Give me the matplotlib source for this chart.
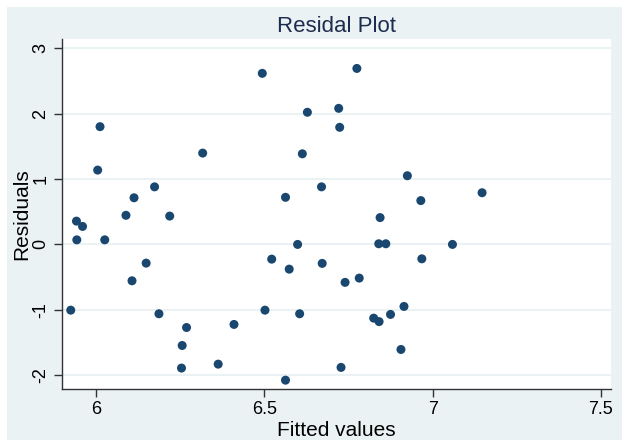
import matplotlib.pyplot as plt
from matplotlib.patches import Rectangle

# Data
fitted = [5.925, 5.942, 5.943, 5.96, 6.005, 6.012, 6.026, 6.089, 6.107, 6.113,
          6.149, 6.174, 6.187, 6.219, 6.254, 6.256, 6.269, 6.317, 6.363, 6.41,
          6.494, 6.502, 6.522, 6.563, 6.563, 6.574, 6.599, 6.605, 6.613, 6.628,
          6.67, 6.672, 6.721, 6.724, 6.728, 6.74, 6.775, 6.782, 6.825, 6.84,
          6.841, 6.844, 6.861, 6.875, 6.906, 6.915, 6.925, 6.965, 6.968, 7.059,
          7.147]
residuals = [-1.005, 0.356, 0.07, 0.275, 1.136, 1.80, 0.07, 0.445, -0.556, 0.713,
             -0.286, 0.88, -1.06, 0.433, -1.89, -1.545, -1.27, 1.396, -1.83, -1.223,
             2.615, -1.005, -0.225, 0.72, -2.075, -0.378, 0.0, -1.06, 1.385, 2.02,
             0.88, -0.29, 2.08, 1.79, -1.88, -0.58, 2.69, -0.515, -1.127, 0.01,
             -1.18, 0.41, 0.01, -1.07, -1.606, -0.948, 1.05, 0.67, -0.22, 0.0,
             0.79]
x_ticks = [6, 6.5, 7, 7.5]
x_tick_labels = ['6', '6.5', '7', '7.5']
y_ticks = [-2, -1, 0, 1, 2, 3]

plt.rcParams['font.family'] = ['Liberation Sans', 'DejaVu Sans']

W, H = 629, 447
fig = plt.figure(figsize=(W / 100, H / 100), dpi=100, facecolor='white')

# Stata-like outer background, drawn behind the axes
fig.patches.append(Rectangle((7 / W, 1 - 440 / H), (622 - 7) / W, (440 - 7) / H,
                             transform=fig.transFigure, facecolor='#EAF2F3',
                             edgecolor='none', zorder=-10))

ax = fig.add_axes([62 / W, 1 - 389 / H, (611 - 62) / W, (389 - 39) / H])
ax.set_zorder(5)
ax.set_facecolor('white')

ax.scatter(fitted, residuals, s=42, color='#1A476F', edgecolors='none', zorder=3)

ax.set_xlim(5.899, 7.53)
ax.set_ylim(-2.21, 3.14)
ax.set_xticks(x_ticks)
ax.set_xticklabels(x_tick_labels)
ax.set_yticks(y_ticks)
ax.set_yticklabels([str(v) for v in y_ticks], rotation=90, va='center')

for v in y_ticks:
    ax.axhline(v, color='#EAF2F3', linewidth=1.5, zorder=1)

for side in ['top', 'right']:
    ax.spines[side].set_visible(False)
for side in ['left', 'bottom']:
    ax.spines[side].set_color('#333333')
    ax.spines[side].set_linewidth(1.0)

ax.tick_params(axis='both', direction='out', length=6, width=1.0,
               color='#333333', labelsize=13, labelcolor='black', pad=3)

ax.set_xlabel('Fitted values', fontsize=15, color='black', labelpad=2)
ax.set_ylabel('Residuals', fontsize=15, color='black', labelpad=1)
ax.set_title('Residal Plot', fontsize=16, color='#1E2D4F', pad=5)

plt.savefig('out.png', dpi=100, facecolor='white')
